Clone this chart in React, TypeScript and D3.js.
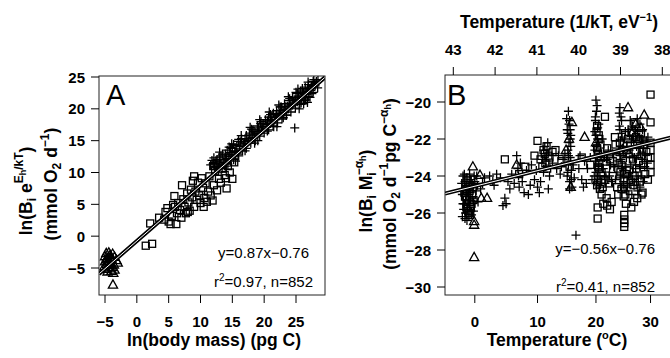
import React from 'react';
import * as d3 from 'd3';

// ---------- Panel A data: ln(body mass) vs ln(B e^{E/kT}) ----------
const massTicks = [-5, 0, 5, 10, 15, 20, 25];
const rateTicksA = [-5, 0, 5, 10, 15, 20, 25];
const fitA = [0.87, -0.76]; // slope, intercept
const statsA = ['y=0.87x\u22120.76', '0.97', '852'];

const trianglesA: [number, number][] = [
  [-5, -3.2], [-4.8, -2.7], [-4.6, -3.5], [-4.4, -2.6], [-4.2, -3.0], [-4.0, -3.6], [-3.8, -2.8],
  [-3.5, -3.3], [-3.2, -3.8], [-3.0, -4.2], [-5, -4.0], [-4.7, -4.4], [-4.5, -3.9], [-4.3, -4.6],
  [-4.1, -4.2], [-3.9, -4.9], [-3.6, -4.5], [-5.1, -4.8], [-4.9, -5.2], [-4.6, -5.6], [-4.0, -5.5],
  [-3.7, -5.8], [-3.5, -5.3], [-4.4, -5.0], [-3.75, -7.65], [-4.8, -3.7], [-4.2, -3.4],
];

const squaresA: [number, number][] = [
  [1.4, -1.5], [2.4, -1.2], [2.1, 2.0], [3.5, 2.9], [4.3, 2.6], [4.5, 3.8], [4.8, 4.4], [5.0, 2.3],
  [5.3, 1.9], [5.5, 3.2], [5.7, 4.9], [5.9, 6.3], [6.2, 1.9], [6.3, 3.6], [6.5, 5.2], [6.8, 4.1],
  [7.0, 2.9], [7.1, 8.0], [7.3, 5.8], [7.5, 4.6], [7.7, 3.6], [7.9, 6.7], [8.1, 5.3], [8.3, 4.0],
  [8.5, 7.3], [8.7, 6.1], [8.8, 8.7], [9.0, 4.6], [9.2, 7.0], [9.4, 5.7], [9.6, 8.4], [9.8, 6.4],
  [10.0, 5.2], [10.2, 9.1], [10.4, 7.6], [10.6, 6.0], [10.8, 8.3], [11.0, 5.4], [11.2, 7.0],
  [11.4, 9.4], [11.6, 6.4], [11.9, 5.6], [12.1, 8.0], [12.3, 10.2], [12.6, 7.2], [12.9, 9.0],
  [13.2, 8.4], [13.5, 10.6], [13.8, 9.6], [14.1, 7.5], [14.3, 11.0], [14.6, 10.0], [15.0, 9.0],
  [14.0, 9.1], [15.3, 11.6], [12.0, 11.0], [9.0, 9.4], [6.0, 4.6], [8.0, 3.8], [10.5, 4.6],
];

const crossesA: [number, number][] = [
  [11.6, 11.2], [11.8, 11.9], [12.1, 12.3], [12.3, 11.5], [12.6, 12.0], [12.8, 10.9], [13.0, 11.8],
  [13.2, 12.6], [13.4, 10.6], [13.7, 11.6], [13.9, 12.9], [14.1, 12.2], [14.3, 11.3], [14.6, 13.1],
  [14.8, 12.5], [15.0, 13.8], [15.2, 12.0], [15.4, 13.3], [15.7, 14.2], [15.9, 12.9], [16.1, 13.7],
  [16.3, 14.8], [16.6, 13.4], [16.8, 14.5], [17.0, 15.3], [17.2, 13.8], [17.5, 14.9], [17.7, 15.9],
  [17.9, 14.6], [18.2, 15.5], [18.4, 16.4], [18.6, 15.0], [18.9, 16.1], [19.1, 17.0], [19.3, 15.7],
  [19.6, 16.6], [19.8, 17.6], [20.0, 16.2], [20.3, 17.2], [20.5, 18.1], [20.7, 16.7], [21.0, 17.7],
  [21.2, 18.7], [21.4, 17.3], [21.7, 18.3], [21.9, 19.1], [22.1, 17.8], [22.4, 18.9], [22.6, 19.8],
  [22.8, 18.4], [23.1, 19.4], [23.3, 20.3], [23.5, 19.0], [23.8, 20.0], [24.0, 20.9], [24.2, 19.5],
  [24.5, 20.6], [24.7, 21.4], [24.9, 20.1], [25.2, 21.1], [25.4, 22.0], [25.6, 20.7], [25.9, 21.7],
  [26.1, 22.5], [26.3, 21.3], [26.6, 22.3], [26.8, 23.1], [27.0, 21.9], [27.3, 22.9], [27.5, 23.7],
  [27.7, 22.6], [28.0, 23.6], [28.2, 24.3], [28.4, 23.3], [24.8, 17.0], [26.8, 21.0], [26.2, 20.8],
  [25.5, 20.0], [22.0, 17.2], [19.0, 15.0], [17.0, 13.4], [15.5, 11.8], [20.5, 16.5], [23.0, 18.6],
  [27.2, 21.8], [13.0, 13.2], [16.0, 15.2], [18.0, 16.8], [21.0, 19.1], [24.0, 21.6], [26.0, 23.2],
  [12.0, 11.4], [14.5, 14.0], [19.5, 18.0], [22.5, 20.3], [25.0, 22.6], [27.8, 24.6],
  [12.2, 10.9], [12.45, 11.8], [12.7, 10.6], [12.95, 12.4], [13.2, 11.3], [13.45, 12.9], [13.7, 12.0],
  [13.95, 11.4], [14.2, 13.5], [14.45, 12.6], [14.7, 13.9], [14.95, 12.8], [15.2, 14.4], [15.45, 13.4],
  [15.7, 13.1], [15.95, 14.9], [16.2, 14.1], [16.45, 15.3], [16.7, 14.3], [16.95, 14.6], [17.2, 15.8],
  [17.45, 15.0], [17.7, 16.2], [17.95, 15.3], [18.2, 16.7], [18.45, 15.9], [18.7, 16.2], [18.95, 17.3],
  [19.2, 16.5], [19.45, 17.7], [19.7, 16.8], [19.95, 17.2], [20.2, 18.3], [20.45, 17.5], [20.7, 18.7],
  [20.95, 17.9], [21.2, 18.1], [21.45, 19.3], [21.7, 18.6], [21.95, 19.7], [22.2, 18.9], [22.45, 19.3],
  [22.7, 20.3], [22.95, 19.7], [23.2, 20.8], [23.45, 19.9], [23.7, 20.4], [23.95, 21.3], [24.2, 20.7],
  [24.45, 21.8], [24.7, 20.9], [24.95, 21.4], [25.2, 22.4], [25.45, 21.7], [25.7, 22.8], [25.95, 22.0],
  [26.2, 22.5], [26.45, 23.4], [26.7, 22.7], [26.95, 23.8], [27.2, 23.2], [27.45, 23.5], [27.7, 24.3],
  [27.95, 23.9], [28.2, 24.1], [28.45, 24.6],
  [21.5, 17.2], [23.5, 19.0], [25.8, 20.9], [27.5, 22.4], [18.5, 14.6], [16.0, 12.6], [14.0, 11.0], [26.5, 21.4],
  [14.9, 14.5], [16.4, 15.8], [17.8, 17.1], [19.3, 18.3], [20.8, 19.5], [22.3, 20.6], [23.8, 21.9],
  [25.3, 23.1], [26.9, 24.2],
];

// ---------- Panel B data: temperature (deg C) vs ln(B M^-a) ----------
const tempTicksC = [0, 10, 20, 30];
const invKTTicks = [43, 42, 41, 40, 39, 38];
const rateTicksB = [-20, -22, -24, -26, -28, -30];
const fitB = [-0.56, -0.76]; // slope (vs 1/kT), intercept
const statsB = ['y=\u22120.56x\u22120.76', '0.41', '852'];

const crossesB: [number, number][] = [
  [-1.8, -24.0], [-1.5, -24.3], [-1.2, -24.1], [-0.9, -24.5], [-0.6, -24.2], [-0.3, -24.6], [0.0, -24.3],
  [0.3, -24.0], [-1.7, -24.8], [-1.3, -25.0], [-1.0, -25.3], [-0.7, -24.9], [-0.4, -25.2], [-1.6, -25.5],
  [-1.1, -25.8], [-0.8, -25.6], [-0.2, -25.9], [-1.4, -26.0], [-1.9, -26.2], [-1.2, -26.4], [-0.5, -26.1],
  [-1.0, -25.0], [0.2, -24.8], [0.5, -25.4],
  [-2.0, -24.4], [-1.6, -23.9], [-0.8, -23.9], [-0.1, -24.0], [-1.9, -25.0], [-1.4, -25.3], [-0.9, -25.1],
  [-0.2, -25.4], [-1.7, -25.8], [-1.2, -25.6], [-0.6, -25.9], [-1.5, -26.3], [-0.9, -26.2], [-1.8, -25.5],
  [-0.4, -24.4], [0.4, -24.5], [1.5, -24.1], [0.9, -24.7],
  [1.2, -24.4], [2.3, -24.0], [3.4, -23.9], [2.8, -24.3], [4.0, -24.1], [4.7, -25.2], [4.4, -25.6],
  [5.2, -24.3], [5.8, -23.9], [6.6, -22.9], [6.2, -24.4], [7.0, -24.6], [6.8, -23.6], [7.5, -24.3],
  [7.8, -24.9], [8.5, -25.0], [8.2, -23.7], [9.0, -23.4], [9.5, -24.2], [10.0, -24.6], [10.3, -24.9],
  [10.8, -23.1], [11.2, -22.4], [11.0, -23.8], [11.5, -22.9], [11.8, -24.7], [12.5, -23.3], [13.2, -23.6],
  [13.8, -23.9], [14.3, -23.1], [14.6, -22.8],
  [3.0, -24.5], [5.5, -24.7], [4.9, -25.5], [6.9, -24.0], [7.2, -23.3], [8.8, -24.5], [9.8, -23.7],
  [10.5, -24.3], [11.0, -22.6], [11.4, -23.2], [11.7, -22.2], [12.0, -24.0], [13.5, -22.9], [14.0, -23.5],
  [15.2, -20.5], [15.4, -21.0], [15.0, -21.5], [15.6, -21.8], [15.3, -22.2], [15.1, -22.6], [15.5, -23.0],
  [15.2, -23.4], [15.7, -23.7], [15.0, -24.0], [15.4, -24.3], [15.8, -24.6], [15.6, -22.4], [15.3, -21.2],
  [14.9, -20.9], [15.1, -21.7], [15.5, -22.0], [15.2, -22.9], [15.6, -23.2], [15.1, -23.8], [15.7, -24.2],
  [15.4, -24.7], [16.0, -23.4], [15.5, -21.5],
  [16.5, -27.2], [16.2, -24.1], [17.0, -23.6], [17.5, -24.2], [18.0, -23.2], [18.3, -24.4], [19.0, -23.0],
  [17.2, -22.9], [18.5, -23.6], [17.8, -24.6], [19.3, -24.2],
  [20.0, -19.9], [20.1, -20.5], [19.9, -21.0], [20.3, -21.4], [20.0, -21.8], [20.4, -22.2], [19.8, -22.6],
  [20.2, -23.0], [20.5, -23.4], [20.0, -23.8], [20.3, -24.2], [20.6, -24.6], [19.7, -24.0], [21.0, -22.8],
  [21.3, -23.6], [21.6, -24.4], [22.0, -23.1], [22.4, -24.0], [22.8, -24.3], [23.2, -23.5],
  [20.2, -20.2], [19.9, -20.8], [20.5, -21.2], [19.8, -21.6], [20.3, -22.0], [20.1, -22.4], [20.6, -22.8],
  [19.9, -23.2], [20.4, -23.6], [20.1, -24.4], [20.7, -24.0], [21.1, -22.0], [21.5, -23.0], [21.8, -24.1],
  [22.2, -22.6], [22.6, -23.4], [23.0, -22.8], [23.5, -24.2],
  [24.3, -20.3], [24.5, -20.8], [24.2, -21.3], [24.6, -21.7], [24.4, -22.1], [24.8, -22.5], [24.3, -22.9],
  [24.7, -23.3], [25.0, -23.7], [24.5, -24.1], [24.9, -24.5], [25.2, -22.0], [25.5, -24.8], [25.8, -21.5],
  [24.2, -20.6], [24.6, -21.0], [24.3, -21.5], [24.7, -21.9], [24.4, -22.4], [24.9, -22.8], [24.5, -23.1],
  [24.8, -23.5], [24.4, -23.9], [25.0, -24.3], [24.6, -24.6], [25.3, -21.6], [25.6, -22.4], [25.4, -23.5],
  [25.9, -24.0], [25.7, -24.6],
  [26.0, -22.6], [26.3, -23.4], [26.6, -24.2], [26.2, -21.0], [26.8, -22.0], [27.0, -23.0], [27.3, -24.0],
  [27.5, -21.6], [27.8, -22.5], [28.0, -23.5], [28.3, -22.0], [28.6, -24.3], [28.0, -21.2], [29.0, -22.8],
  [29.5, -21.9], [26.5, -25.0], [27.6, -24.8], [25.5, -23.0],
  [26.1, -21.8], [26.4, -22.2], [26.7, -23.0], [26.2, -23.8], [26.9, -24.5], [27.1, -21.5], [27.4, -22.4],
  [27.2, -23.6], [27.7, -24.3], [27.9, -21.9], [28.1, -22.8], [28.4, -23.1], [28.2, -24.0], [28.7, -22.5],
  [28.9, -23.5], [28.5, -21.5], [29.2, -22.1], [29.4, -23.3], [26.6, -21.3], [27.5, -20.9], [28.0, -24.6],
  [26.0, -24.4],
];

const squaresB: [number, number][] = [
  [-1.3, -24.4], [-0.8, -24.8], [-1.5, -25.1], [-0.5, -25.5], [-1.0, -25.9], [-1.2, -25.3], [-0.3, -24.6],
  [-0.9, -26.0], [-0.6, -25.7], [-1.4, -24.7],
  [-1.1, -24.2], [-0.7, -24.5], [-1.6, -24.9], [-0.4, -25.0], [-1.3, -25.7], [-0.7, -26.1], [-1.0, -24.6],
  [-0.2, -25.3],
  [4.7, -23.1], [7.0, -23.9], [8.0, -23.5], [9.5, -22.9], [10.0, -22.1], [10.5, -23.1], [11.2, -22.8],
  [11.5, -22.4], [11.3, -23.3], [11.6, -23.6], [12.0, -23.0], [13.0, -22.6], [14.0, -23.2], [15.4, -23.5],
  [11.0, -22.6], [11.8, -22.9], [12.5, -22.7], [10.8, -23.5],
  [17.5, -23.0], [19.0, -23.4], [20.2, -21.3], [20.5, -21.8], [20.8, -22.3], [20.3, -22.8], [20.6, -23.3],
  [21.0, -23.8], [20.4, -24.3], [20.7, -24.7], [21.2, -24.6], [20.3, -25.7], [20.3, -26.3], [21.3, -25.5],
  [22.0, -25.6], [22.8, -25.4], [21.6, -20.8], [22.0, -22.5], [22.5, -23.1], [23.0, -24.0], [23.5, -22.3],
  [20.1, -21.6], [20.6, -22.0], [20.2, -22.5], [20.8, -23.0], [20.4, -23.5], [20.9, -24.0], [20.2, -24.5],
  [21.0, -25.0], [21.5, -24.2], [21.9, -25.2], [22.5, -25.8], [23.0, -23.2], [23.8, -23.0],
  [23.8, -24.6], [24.0, -25.0], [24.6, -23.4], [25.0, -25.1], [25.1, -26.1], [25.1, -26.35], [25.1, -26.55],
  [25.1, -26.75], [25.3, -25.0], [25.8, -22.0], [26.0, -23.7], [26.4, -25.7], [26.8, -24.5], [27.2, -22.7],
  [27.5, -25.2], [27.8, -23.2], [28.5, -24.9], [28.8, -22.3], [29.0, -23.9], [30.0, -19.6], [30.0, -21.1],
  [30.0, -22.2], [30.0, -22.6], [30.0, -23.0], [30.0, -23.4], [30.0, -23.8], [29.5, -24.2], [26.5, -21.6],
  [27.0, -21.1], [28.2, -21.7], [25.5, -23.9], [24.0, -23.6], [22.3, -24.4], [21.8, -23.6], [23.4, -21.9],
  [20.5, -23.6],
  [24.3, -22.2], [24.8, -22.7], [24.4, -23.8], [25.0, -24.2], [24.6, -24.7], [25.4, -25.5], [25.6, -22.6],
  [26.2, -22.3], [26.7, -23.1], [26.3, -24.3], [27.0, -24.0], [27.4, -23.6], [27.9, -22.0], [28.3, -22.9],
  [28.0, -24.3], [28.6, -23.4], [29.2, -22.7], [29.5, -23.0], [26.9, -25.4], [28.3, -25.0], [27.3, -21.9],
];

const trianglesB: [number, number][] = [
  [-0.3, -23.5], [0.8, -23.95], [1.0, -25.2], [1.9, -25.2], [-0.1, -26.45], [-0.1, -26.65], [-0.1, -28.4],
  [6.6, -23.4], [15.8, -21.1], [15.6, -24.6], [15.3, -22.0], [18.0, -21.9], [20.0, -22.2], [21.5, -23.0],
  [24.5, -22.6], [25.8, -20.3], [26.5, -21.7], [27.2, -21.2], [28.8, -20.7], [28.2, -21.4], [27.8, -22.0],
  [26.0, -22.8], [14.8, -22.6],
];

const K_BOLTZ = 8.617e-5;
const toInvKT = (c: number) => 1 / (K_BOLTZ * (c + 273.15));

const FONT = "'Liberation Sans', Arial, Helvetica, sans-serif";
const TICK_FS = 15;
const TITLE_FS = 17.5;
const MARK_SW = 1.3;

const crossPath = (x: number, y: number) => `M${x - 4.5},${y}h9M${x},${y - 4.5}v9`;
const triPoints = (x: number, y: number) => `${x},${y - 5} ${x - 4.6},${y + 3.2} ${x + 4.6},${y + 3.2}`;

function FitLine({ x1, y1, x2, y2, clip }: any) {
  return (
    <g clipPath={clip}>
      <line x1={x1} y1={y1} x2={x2} y2={y2} stroke="#000" strokeWidth={4} />
      <line x1={x1} y1={y1} x2={x2} y2={y2} stroke="#fff" strokeWidth={1} />
    </g>
  );
}

export default function App() {
  // Panel A
  const A = { l: 99, r: 325, t: 76, b: 295 };
  const ax = d3.scaleLinear().domain([-5, 25]).range([105, 296]);
  const ay = d3.scaleLinear().domain([-5, 25]).range([268, 77]);
  const aX0 = ax.invert(A.l), aX1 = ax.invert(A.r);

  // Panel B (x axis linear in 1/kT, reversed)
  const B = { l: 445, r: 673, t: 75, b: 295 };
  const bx = d3.scaleLinear().domain([43, 38]).range([453.3, 662.3]);
  const by = d3.scaleLinear().domain([-20, -30]).range([102, 287]);
  const bX0 = bx.invert(B.l), bX1 = bx.invert(B.r);

  const tick = 8;

  return (
    <svg width={670} height={358} style={{ position: 'absolute', left: 0, top: 0, background: '#fff' }}
      fontFamily={FONT}>
      <defs>
        <clipPath id="clipA"><rect x={A.l} y={A.t} width={A.r - A.l} height={A.b - A.t} /></clipPath>
        <clipPath id="clipB"><rect x={B.l} y={B.t} width={B.r - B.l} height={B.b - B.t} /></clipPath>
      </defs>
      <rect x={0} y={0} width={670} height={358} fill="#fff" />

      {/* ===== Panel A ===== */}
      <g clipPath="url(#clipA)" fill="none" stroke="#000" strokeWidth={MARK_SW}>
        {squaresA.map((d, i) => (
          <rect key={'sa' + i} x={ax(d[0]) - 3.5} y={ay(d[1]) - 3.5} width={7} height={7} />
        ))}
        {crossesA.map((d, i) => <path key={'ca' + i} d={crossPath(ax(d[0]), ay(d[1]))} />)}
        {trianglesA.map((d, i) => <polygon key={'ta' + i} points={triPoints(ax(d[0]), ay(d[1]))} />)}
      </g>
      <FitLine clip="url(#clipA)" x1={A.l} y1={ay(fitA[0] * aX0 + fitA[1])} x2={A.r} y2={ay(fitA[0] * aX1 + fitA[1])} />
      <rect x={A.l} y={A.t} width={A.r - A.l} height={A.b - A.t} fill="none" stroke="#222" strokeWidth={1} />
      <text x={106} y={105} fontSize={29}>A</text>
      <text x={309} y={258} fontSize={15} textAnchor="end">{statsA[0]}</text>
      <text x={313} y={287} fontSize={15} textAnchor="end">
        r<tspan dy={-6} fontSize={10}>2</tspan><tspan dy={6}>={statsA[1]}, n={statsA[2]}</tspan>
      </text>
      {/* x axis A */}
      {massTicks.map((t) => (
        <g key={'mx' + t}>
          <line x1={ax(t)} x2={ax(t)} y1={A.b} y2={A.b + tick} stroke="#000" />
          <text x={ax(t)} y={327} fontSize={TICK_FS} fontWeight="bold" textAnchor="middle">
            {t < 0 ? '\u2212' + Math.abs(t) : t}
          </text>
        </g>
      ))}
      {/* y axis A */}
      {rateTicksA.map((t) => (
        <g key={'ry' + t}>
          <line x1={A.l - tick} x2={A.l} y1={ay(t)} y2={ay(t)} stroke="#000" />
          <text x={85} y={ay(t) + 5.5} fontSize={TICK_FS} fontWeight="bold" textAnchor="end">
            {t < 0 ? '\u2212' + Math.abs(t) : t}
          </text>
        </g>
      ))}
      <text x={214} y={346} fontSize={TITLE_FS} fontWeight="bold" textAnchor="middle">ln(body mass) (pg C)</text>
      <text transform="translate(32,191) rotate(-90)" fontSize={TITLE_FS} fontWeight="bold" textAnchor="middle">
        ln(B<tspan dy={4} fontSize={12}>i</tspan><tspan dy={-4}>{'  e'}</tspan>
        <tspan dy={-9} fontSize={12}>E</tspan><tspan dy={3} fontSize={9}>h</tspan>
        <tspan dy={-3} fontSize={12}>/kT</tspan><tspan dy={9}>)</tspan>
      </text>
      <text transform="translate(57,184) rotate(-90)" fontSize={TITLE_FS} fontWeight="bold" textAnchor="middle">
        (mmol O<tspan dy={4} fontSize={12}>2</tspan><tspan dy={-4}>{'  d'}</tspan>
        <tspan dy={-8} fontSize={12}>{'\u22121'}</tspan><tspan dy={8}>)</tspan>
      </text>

      {/* ===== Panel B ===== */}
      <g clipPath="url(#clipB)" fill="none" stroke="#000" strokeWidth={MARK_SW}>
        {squaresB.map((d, i) => (
          <rect key={'sb' + i} x={bx(toInvKT(d[0])) - 3.5} y={by(d[1]) - 3.5} width={7} height={7} />
        ))}
        {crossesB.map((d, i) => <path key={'cb' + i} d={crossPath(bx(toInvKT(d[0])), by(d[1]))} />)}
        {trianglesB.map((d, i) => <polygon key={'tb' + i} points={triPoints(bx(toInvKT(d[0])), by(d[1]))} />)}
      </g>
      <FitLine clip="url(#clipB)" x1={B.l} y1={by(fitB[0] * bX0 + fitB[1])} x2={B.r} y2={by(fitB[0] * bX1 + fitB[1])} />
      <rect x={B.l} y={B.t} width={B.r - B.l} height={B.b - B.t} fill="none" stroke="#222" strokeWidth={1} />
      <text x={447} y={105} fontSize={29}>B</text>
      <text x={655} y={254} fontSize={15} textAnchor="end">{statsB[0]}</text>
      <text x={655} y={292} fontSize={15} textAnchor="end">
        r<tspan dy={-6} fontSize={10}>2</tspan><tspan dy={6}>={statsB[1]}, n={statsB[2]}</tspan>
      </text>
      {/* bottom axis: deg C */}
      {tempTicksC.map((t) => (
        <g key={'tc' + t}>
          <line x1={bx(toInvKT(t))} x2={bx(toInvKT(t))} y1={B.b} y2={B.b + tick} stroke="#000" />
          <text x={bx(toInvKT(t))} y={327} fontSize={TICK_FS} fontWeight="bold" textAnchor="middle">{t}</text>
        </g>
      ))}
      {/* top axis: 1/kT */}
      {invKTTicks.map((t) => (
        <g key={'ik' + t}>
          <line x1={bx(t)} x2={bx(t)} y1={B.t} y2={B.t - tick} stroke="#000" />
          <text x={bx(t)} y={55} fontSize={TICK_FS} fontWeight="bold" textAnchor="middle">{t}</text>
        </g>
      ))}
      {/* y axis B */}
      {rateTicksB.map((t) => (
        <g key={'rb' + t}>
          <line x1={B.l - tick} x2={B.l} y1={by(t)} y2={by(t)} stroke="#000" />
          <text x={431} y={by(t) + 5.5} fontSize={TICK_FS} fontWeight="bold" textAnchor="end">
            {'\u2212' + Math.abs(t)}
          </text>
        </g>
      ))}
      <text x={557} y={346} fontSize={TITLE_FS} fontWeight="bold" textAnchor="middle">
        Temperature (<tspan dy={-7} fontSize={11}>o</tspan><tspan dy={7}>C)</tspan>
      </text>
      <text x={559} y={28} fontSize={TITLE_FS} fontWeight="bold" textAnchor="middle">
        Temperature (1/kT, eV<tspan dy={-7} fontSize={11}>{'\u22121'}</tspan><tspan dy={7}>)</tspan>
      </text>
      <text transform="translate(372,191) rotate(-90)" fontSize={TITLE_FS} fontWeight="bold" textAnchor="middle">
        ln(B<tspan dy={4} fontSize={12}>i</tspan><tspan dy={-4}>{'  M'}</tspan>
        <tspan dy={4} fontSize={12}>i</tspan>
        <tspan dx={-3} dy={-13} fontSize={12}>{'\u2212\u03b1'}</tspan><tspan dy={3} fontSize={9}>h</tspan>
        <tspan dy={6}>)</tspan>
      </text>
      <text transform="translate(396,184) rotate(-90)" fontSize={TITLE_FS} fontWeight="bold" textAnchor="middle">
        (mmol O<tspan dy={4} fontSize={12}>2</tspan><tspan dy={-4}>{'  d'}</tspan>
        <tspan dy={-8} fontSize={12}>{'\u22121'}</tspan><tspan dy={8}>pg  C</tspan>
        <tspan dy={-8} fontSize={12}>{'\u2212\u03b1'}</tspan><tspan dy={3} fontSize={9}>h</tspan>
        <tspan dy={5}>)</tspan>
      </text>
    </svg>
  );
}
